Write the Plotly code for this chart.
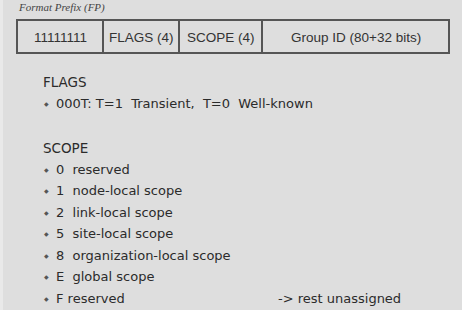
import plotly.graph_objects as go

# ---- content ----
caption = "Format Prefix (FP)"
field_labels = ["11111111", "FLAGS (4)", "SCOPE (4)", "Group ID (80+32 bits)"]
flags_title = "FLAGS"
flags_items = ["000T: T=1  Transient,  T=0  Well-known"]
scope_title = "SCOPE"
scope_codes = ["0", "1", "2", "5", "8", "E", "F"]
scope_names = ["reserved", "node-local scope", "link-local scope", "site-local scope",
               "organization-local scope", "global scope", "reserved"]
scope_note = "-> rest unassigned"

# ---- layout constants ----
W, H = 462, 310
cell_edges = [17, 103, 179, 262, 449]
box_top, box_bot = 20, 53
BG = "#dedede"
TXT = "#2b2b2b"
body_font = "Comic Sans MS, DejaVu Sans, sans-serif"

fig = go.Figure()
shapes = []
ann = []

shapes.append(dict(type="rect", x0=0, x1=3, y0=0, y1=H, fillcolor="#e9e9e9", line=dict(width=0), layer="below"))

for i, lab in enumerate(field_labels):
    x0, x1 = cell_edges[i], cell_edges[i + 1]
    shapes.append(dict(type="rect", x0=x0, x1=x1, y0=box_top, y1=box_bot,
                       line=dict(color="#555555", width=2), fillcolor="rgba(0,0,0,0)"))
    ann.append(dict(x=(x0 + x1) / 2, y=(box_top + box_bot) / 2 + 1, text=lab, showarrow=False,
                    font=dict(family="Liberation Sans, Arial", size=13.5, color="#333333"),
                    xanchor="center", yanchor="middle"))

ann.append(dict(x=16, y=7, text="<i>" + caption + "</i>", showarrow=False,
                font=dict(family="Liberation Serif, serif", size=11, color="#444444"),
                xanchor="left", yanchor="middle"))

def title(y, t):
    ann.append(dict(x=41, y=y, text=t, showarrow=False,
                    font=dict(family=body_font, size=13.5, color=TXT),
                    xanchor="left", yanchor="middle"))

def item(y, t):
    ann.append(dict(x=46, y=y, text="◆", showarrow=False,
                    font=dict(family="DejaVu Sans", size=6, color="#555555"),
                    xanchor="center", yanchor="middle"))
    ann.append(dict(x=54, y=y, text=t, showarrow=False,
                    font=dict(family=body_font, size=13, color=TXT),
                    xanchor="left", yanchor="middle"))

title(82, flags_title)
for k, t in enumerate(flags_items):
    item(103 + k * 21.5, t)

title(148, scope_title)
y0 = 169
step = 21.5
for k, (c, n) in enumerate(zip(scope_codes, scope_names)):
    item(y0 + k * step, c + "  " + n if c != "F" else c + " " + n)

ann.append(dict(x=276, y=y0 + (len(scope_codes) - 1) * step, text=scope_note, showarrow=False,
                font=dict(family=body_font, size=13, color=TXT),
                xanchor="left", yanchor="middle"))

fig.update_layout(
    width=W, height=H, margin=dict(l=0, r=0, t=0, b=0),
    paper_bgcolor=BG, plot_bgcolor=BG,
    xaxis=dict(range=[0, W], visible=False, fixedrange=True),
    yaxis=dict(range=[H, 0], visible=False, fixedrange=True),
    shapes=shapes, annotations=ann, showlegend=False,
)
fig.write_html("out.html", config={"displayModeBar": False},
               post_script="document.body.style.margin='0px';document.body.style.overflow='hidden';")
